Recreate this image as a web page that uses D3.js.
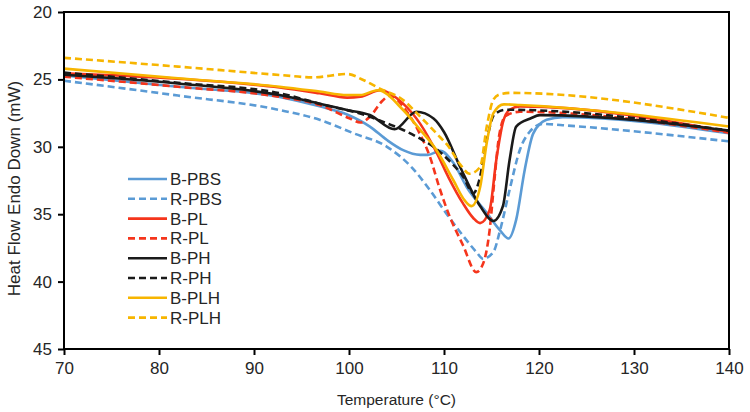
<!DOCTYPE html>
<html>
<head>
<meta charset="utf-8">
<script src="https://cdn.jsdelivr.net/npm/d3@7"></script>
<style>
  body { margin: 0; background: #fff; }
  text { font-family: "Liberation Sans", Arial, sans-serif; fill: #262626; }
</style>
</head>
<body>
<svg id="chart" width="750" height="412"></svg>
<script>
// readings, [temperature °C, heat flow mW]
const bPBS = [[70,24.7],[82,25.55],[92.7,26.3],[96.9,27.0],[99.8,27.6],[102.2,28.5],[104,29.5],[105.7,30.25],[107.5,30.6],[108.3,30.6],[109.6,30.3],[111,31.2],[112.4,33.0],[114.5,34.9],[115.9,36.2],[116.8,36.8],[117.6,35.4],[118.5,31.7],[119.4,29.0],[120.8,28.0],[122.5,27.8],[140,29.0]];
const rPBS = [[70,25.1],[82,26.2],[92.7,27.27],[96.9,28.0],[100.5,29.0],[104,30.0],[106.7,31.6],[108.5,33.2],[110.3,35.0],[112,36.6],[113.4,37.8],[114.1,38.3],[115.2,37.8],[115.9,36.2],[116.9,33.2],[118,30.2],[119,28.9],[120.4,28.3],[122.5,28.4],[140,29.6]];
const bPL = [[70,24.55],[82,24.95],[92.7,25.6],[96.9,26.03],[99.8,26.35],[101.2,26.28],[103.3,25.8],[105.7,26.8],[107.5,28.3],[109.2,30.4],[110.5,32.3],[112,34.2],[113.1,35.3],[113.8,35.66],[114.8,34.7],[115.5,31.0],[116.2,28.2],[116.9,27.25],[118,27.0],[140,28.9]];
const rPL = [[70,24.8],[82,25.55],[92.7,26.3],[96.9,26.9],[100.1,27.9],[101.2,28.2],[102.2,27.77],[103.5,26.6],[104.3,26.2],[106,27.3],[107.5,29.1],[108.5,30.7],[109.5,33.0],[110.5,35.0],[112,37.3],[113.4,39.3],[114.1,38.7],[114.8,36.2],[115.3,32.5],[115.8,29.2],[116.5,27.7],[118,27.4],[140,28.95]];
const bPH = [[70,24.65],[82,25.3],[92.7,26.16],[96.9,26.8],[99.8,27.27],[102.2,27.64],[104.8,28.7],[107.1,27.4],[108.9,27.9],[110,28.9],[111.7,31.5],[113.8,34.4],[115.2,35.5],[116.2,34.4],[116.9,31.0],[117.6,28.5],[119.1,27.9],[120.1,27.65],[140,28.8]];
const rPH = [[70,24.5],[82,25.25],[92.7,26.03],[96.9,26.8],[102.2,27.77],[104,28.26],[105.7,28.75],[107.5,29.4],[108.9,30.0],[110.5,31.0],[112,32.2],[113.1,33.45],[113.7,32.5],[114.5,29.5],[115.3,27.6],[116.5,27.25],[140,28.8]];
const bPLH = [[70,24.2],[82,24.92],[92.7,25.54],[96.9,25.9],[99.8,26.16],[101.2,26.16],[103,25.8],[105.7,27.27],[107.5,28.75],[109.2,30.24],[111,32.5],[112.2,34.0],[112.9,34.4],[113.8,33.0],[114.5,29.7],[115.2,27.5],[116.3,26.85],[118,26.9],[140,28.5]];
const rPLH = [[70,23.4],[82,24.05],[92.7,24.67],[96.2,24.85],[99.8,24.6],[101.5,25.04],[103.3,25.7],[105.7,26.53],[107.5,27.77],[109.2,29.0],[110.5,30.0],[111.7,31.3],[112.7,32.0],[113.8,31.5],[114.5,28.5],[115.2,26.5],[115.9,26.1],[117,26.0],[140,27.85]];

const seriesNames = ['B-PBS', 'R-PBS', 'B-PL', 'R-PL', 'B-PH', 'R-PH', 'B-PLH', 'R-PLH'];
const seriesData = [bPBS, rPBS, bPL, rPL, bPH, rPH, bPLH, rPLH];
const seriesColors = ['#5b9bd5', '#5b9bd5', '#f5351c', '#f5351c', '#1a1a1a', '#1a1a1a', '#f7b500', '#f7b500'];
const seriesDashed = [false, true, false, true, false, true, false, true];

const xTicks = [70, 80, 90, 100, 110, 120, 130, 140];
const yTicks = [20, 25, 30, 35, 40, 45];

const margin = { top: 12, right: 21, bottom: 63, left: 64 };
const W = 750, H = 412;
const iw = W - margin.left - margin.right;
const ih = H - margin.top - margin.bottom;

const svg = d3.select('#chart');
const g = svg.append('g').attr('transform', `translate(${margin.left},${margin.top})`);

const x = d3.scaleLinear().domain([70, 140]).range([0, iw]);
const y = d3.scaleLinear().domain([20, 45]).range([0, ih]);

const line = d3.line()
  .x(d => x(d[0]))
  .y(d => y(d[1]))
  .curve(d3.curveMonotoneX);

seriesData.forEach((data, i) => {
  g.append('path')
    .datum(data)
    .attr('d', line)
    .attr('fill', 'none')
    .attr('stroke', seriesColors[i])
    .attr('stroke-width', 2.6)
    .attr('stroke-dasharray', seriesDashed[i] ? '7,4' : null);
});

// frame
g.append('rect')
  .attr('width', iw).attr('height', ih)
  .attr('fill', 'none').attr('stroke', '#000').attr('stroke-width', 2);

const xAxis = g.append('g')
  .attr('transform', `translate(0,${ih})`)
  .call(d3.axisBottom(x).tickValues(xTicks).tickSize(6).tickPadding(7));
const yAxis = g.append('g')
  .call(d3.axisLeft(y).tickValues(yTicks).tickSize(6).tickPadding(6));
[xAxis, yAxis].forEach(a => {
  a.select('.domain').remove();
  a.selectAll('line').attr('stroke', '#000').attr('stroke-width', 2);
  a.selectAll('text').attr('font-size', 17).attr('fill', '#262626')
    .style('font-family', '"Liberation Sans", Arial, sans-serif');
});

svg.append('text')
  .attr('x', margin.left + iw / 2).attr('y', 405)
  .attr('text-anchor', 'middle').attr('font-size', 15.5)
  .text('Temperature (°C)');

svg.append('text')
  .attr('transform', `translate(20,${margin.top + ih / 2 + 8}) rotate(-90)`)
  .attr('text-anchor', 'middle').attr('font-size', 17)
  .text('Heat Flow Endo Down (mW)');

// legend
const legend = svg.append('g').attr('transform', 'translate(128,179)');
seriesNames.forEach((name, i) => {
  const row = legend.append('g').attr('transform', `translate(0,${i * 19.8})`);
  row.append('line')
    .attr('x1', 0).attr('x2', 39).attr('y1', 0).attr('y2', 0)
    .attr('stroke', seriesColors[i]).attr('stroke-width', 2.6)
    .attr('stroke-dasharray', seriesDashed[i] ? '7,4' : null);
  row.append('text')
    .attr('x', 42).attr('y', 0).attr('dy', '0.35em')
    .attr('font-size', 17)
    .text(name);
});
</script>
</body>
</html>
